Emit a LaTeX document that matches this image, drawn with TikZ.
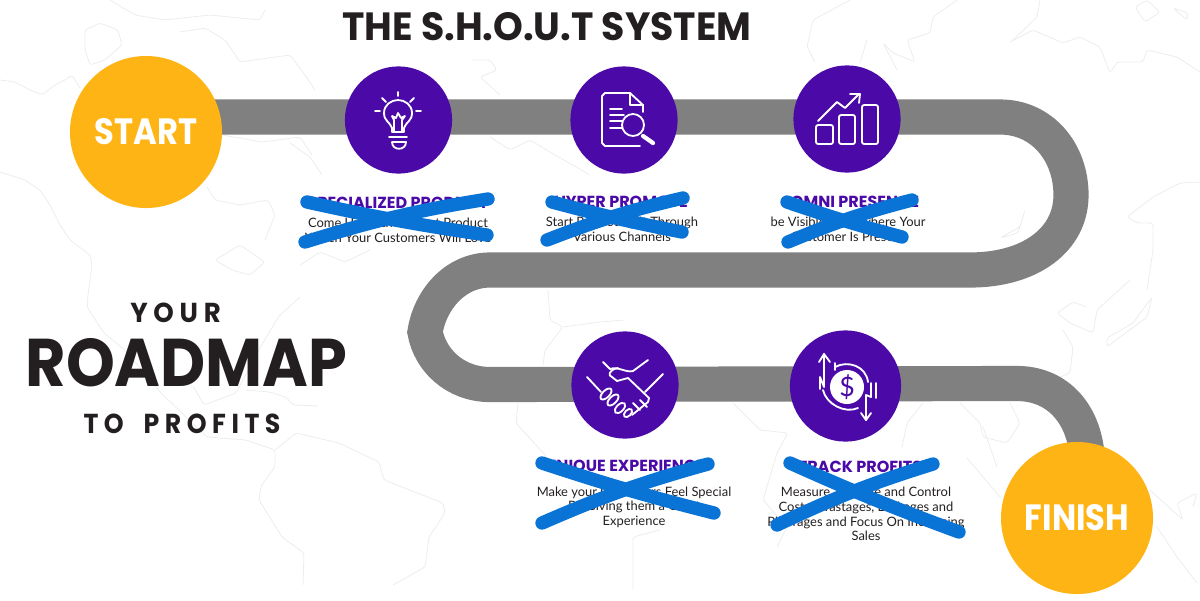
\documentclass[tikz,border=0pt]{standalone}
\usepackage{fontspec}
\setmainfont{Lato}
\newfontfamily\headfont{Poppins}
\newfontfamily\spacedfont[LetterSpace=22]{Poppins}
\usepackage{tikz}
\usetikzlibrary{backgrounds}
\definecolor{sunny}{HTML}{FFB416}
\definecolor{royal}{HTML}{4B0AA8}
\definecolor{roadgray}{HTML}{808080}
\definecolor{inkblue}{HTML}{0A73D6}
\definecolor{inkdark}{HTML}{231F20}
\definecolor{mapline}{HTML}{EDEDED}

\begin{document}
\begin{tikzpicture}[x=0.025cm, y=-0.025cm,
  goal/.style={circle, fill=sunny, minimum size=3.8cm, inner sep=0pt, text=white,
               font=\headfont\bfseries\fontsize{26}{30}\selectfont},
  stop/.style={circle, fill=royal, minimum size=2.68cm, inner sep=0pt},
  heading/.style={font=\headfont\bfseries\fontsize{11.4}{13}\selectfont, text=royal},
  blurb/.style={align=center, text=inkdark, font=\fontsize{9.2}{10.4}\selectfont},
  slogan/.style={text=inkdark, font=\spacedfont\bfseries\fontsize{19.5}{24}\selectfont},
  road/.style={draw=roadgray, line width=25pt, line join=miter},
  cross/.style={draw=inkblue, line width=9.5pt, line cap=round},
  icon/.style={draw=white, line width=1.3pt, line cap=round, line join=round},
  map/.style={draw=mapline, line width=0.6pt, line join=round, rounded corners=2pt}
]
\useasboundingbox (0,0) rectangle (1200,600);

%% Start, finish and the five stops
\node[goal] at (146,132) (start) {\raisebox{-2pt}{\scalebox{0.88}[1]{START}}};
\node[goal] at (1077,518) (finish) {\raisebox{-1.5pt}{\scalebox{0.88}[1]{FINISH}}};
\node[stop] at (398.5,120) (product) {};
\node[stop] at (624,120) (promote) {};
\node[stop] at (847,119) (omni) {};
\node[stop] at (625,385) (unique) {};
\node[stop, minimum size=2.78cm] at (845.5,386) (track) {};

%% Road bends
\coordinate (bendA) at (1000,117);
\coordinate (bendB) at (1071,195);
\coordinate (bendC) at (970,270);
\coordinate (bendD) at (490,270);
\coordinate (bendE) at (425,332);
\coordinate (bendF) at (490,384.5);
\coordinate (bendG) at (1017,383.5);
\coordinate (bendH) at (1086,447);

\begin{pgfonlayer}{background}
%% Faint world map
\draw[map] (0,80) -- (15,82) -- (30,90) -- (42,95) -- (55,85) -- (65,80) -- (72,75) -- (80,88);
\draw[map] (0,172) -- (25,180) -- (40,190) -- (50,205) -- (60,225) -- (70,240) -- (90,255) -- (92,265) -- (88,295) -- (87,307) -- (104,333) -- (125,350) -- (161,393) -- (207,437) -- (246,440) -- (275,450) -- (275,467) -- (261,486) -- (259,500) -- (282,537) -- (304,553) -- (303,585);
\draw[map] (85,30) -- (100,23) -- (118,30) -- (122,45) -- (105,60) -- (90,65) -- (85,50) -- cycle;
\draw[map] (180,32) -- (205,28) -- (225,40) -- (240,62) -- (290,55) -- (305,75) -- (315,90);
\draw[map] (110,0) -- (135,15) -- (165,20) -- (210,15) -- (260,20) -- (265,10);
\draw[map] (207,187) -- (215,200) -- (240,205) -- (268,200) -- (275,215) -- (265,240);
\draw[map] (222,135) -- (262,142) -- (300,137) -- (312,155);
\draw[map] (215,260) -- (240,245) -- (265,262) -- (250,275) -- (232,270) -- cycle;
\draw[map] (300,265) -- (320,252) -- (345,262) -- (370,250);
\draw[map] (300,297) -- (279,316) -- (261,346) -- (236,393) -- (204,405) -- (193,386);
\draw[map] (246,390) -- (270,392) -- (286,397) -- (293,405) -- (318,406);
\draw[map] (275,450) -- (296,433) -- (339,443) -- (379,462) -- (384,480) -- (443,503) -- (445,513) -- (429,537) -- (425,567) -- (393,585);
\draw[map] (290,143) -- (310,157) -- (322,175);
\draw[map] (472,60) -- (490,60) -- (497,70) -- (480,77) -- (500,95);
\draw[map] (490,137) -- (510,150) -- (530,140) -- (555,155) -- (590,175);
\draw[map] (548,290) -- (550,320) -- (563,327) -- (545,350) -- (543,365);
\draw[map] (563,327) -- (600,322) -- (625,320);
\draw[map] (518,403) -- (516,423) -- (547,457) -- (536,466);
\draw[map] (733,403) -- (760,430) -- (788,433) -- (777,453) -- (763,500) -- (787,527) -- (777,547);
\draw[map] (633,590) -- (633,537) -- (660,530);
\draw[map] (1010,42) -- (1033,30) -- (1040,33) -- (1063,43) -- (1080,37) -- (1100,47) -- (1110,73) -- (1117,62) -- (1143,62) -- (1147,50) -- (1177,57) -- (1200,72);
\draw[map] (1040,0) -- (1037,17) -- (1013,40);
\draw[map] (1135,7) -- (1147,0) -- (1160,12) -- (1145,22) -- cycle;
\draw[map] (1173,8) -- (1188,13) -- (1187,20) -- cycle;
\draw[map] (957,0) -- (933,17) -- (930,33) -- (907,40) -- (915,62) -- (893,53) -- (883,43) -- (897,70);
\draw[map] (867,40) -- (860,63);
\draw[map] (850,0) -- (813,20) -- (807,47) -- (815,62);
\draw[map] (1200,182) -- (1180,183) -- (1153,197) -- (1127,217) -- (1137,223) -- (1153,223) -- (1153,250) -- (1147,290);
\draw[map] (1025,210) -- (1020,227) -- (1000,238) -- (1018,233) -- cycle;
\draw[map] (1130,280) -- (1097,310) -- (1093,333) -- (1070,323) -- (1057,313) -- (1073,302) -- (1087,307);
\draw[map] (1063,330) -- (1073,347) -- (1070,373) -- (1060,377);
\draw[map] (1107,347) -- (1107,338) -- (1133,323) -- (1152,297) -- (1147,317) -- (1120,337) -- cycle;
\draw[map] (960,403) -- (980,423) -- (983,437) -- (1007,443) -- (1020,423) -- (1010,403);
\draw[map] (983,427) -- (997,467);
\draw[map] (967,458) -- (1000,497);
\draw[map] (923,403) -- (907,423) -- (902,447);
\draw[map] (1150,490) -- (1183,520) -- (1177,503) -- (1197,493) -- (1193,507);
\draw[map] (1157,527) -- (1177,557) -- (1197,583);

%% The road
\draw[road] (start |- bendA) -- (bendA) .. controls (1042,117) and (1071,152) .. (bendB)
  .. controls (1071,240) and (1030,270) .. (bendC) -- (bendD)
  .. controls (455,270) and (430,300) .. (bendE)
  .. controls (430,360) and (455,384.5) .. (bendF) -- (bendG)
  .. controls (1055,383.5) and (1080,410) .. (bendH) -- (finish.center);
\end{pgfonlayer}

%% Titles
\node[text=inkdark, font=\headfont\bfseries\fontsize{28}{32}\selectfont] at (547,27) (title) {\scalebox{0.962}[1]{THE S.H.O.U.T SYSTEM}};
\node[slogan] at (175.5,312.5) (your) {\scalebox{0.95}[1]{YOUR}};
\node[text=inkdark, font=\headfont\bfseries\fontsize{48}{54}\selectfont] at (186.5,363) (roadmap) {\scalebox{0.92}[1]{ROADMAP}};
\node[slogan] at (182,423.5) (profits) {\scalebox{0.92}[1]{TO\hspace{0.35em} PROFITS}};

%% Labels under the stops
\node[heading] at (398,203) (productA) {SPECIALIZED PRODUCT};
\node[blurb] at (398,230) (productB) {Come Up With A Great Product\\Which Your Customers Will Love};
\node[heading] at (621,202) (promoteA) {HYPER PROMOTE};
\node[blurb] at (622,229) (promoteB) {Start Promoting It Through\\Various Channels};
\node[heading] at (855,202) (omniA) {OMNI PRESENCE};
\node[blurb] at (848,229) (omniB) {be Visible Everywhere Your\\Customer Is Present};
\node[heading] at (625,467) (uniqueA) {UNIQUE EXPERIENCE};
\node[blurb] at (634,507) (uniqueB) {Make your Customers Feel Special\\By Giving them a Great\\Experience};
\node[heading] at (860,467) (trackA) {TRACK PROFITS};
\node[blurb] at (866,514) (trackB) {Measure, Analyze and Control\\Costs, Wastages, Leakages and\\Pilferages and Focus On Increasing\\Sales};

%% Blue strike-outs
\draw[cross] (307,202) to[bend right=2] (487,235);
\draw[cross] (305,242) to[bend left=4] (488,199);
\draw[cross] (552,202) to[bend right=2] (682,232);
\draw[cross] (547,240) to[bend left=4] (683,198);
\draw[cross] (787,202) to[bend right=2] (902,237);
\draw[cross] (788,242) to[bend left=4] (912,200);
\draw[cross] (542,463) to[bend right=2] (714,513);
\draw[cross] (542,523) to[bend left=4] (708,464);
\draw[cross] (790,463) to[bend right=2] (959,532);
\draw[cross] (777,525) to[bend left=4] (933,464);

%% Bulb
\draw[icon] (392,132) -- (392,128) .. controls (390,122) and (384,121) .. (384,113)
  .. controls (384,105) and (391,100) .. (398,100) .. controls (405,100) and (412,105) .. (412,113)
  .. controls (412,121) and (406,122) .. (404,128) -- (404,132) -- cycle;
\draw[icon] (394,132) -- (394,120) -- (392,116) -- (396,118) -- (398,113) -- (401,118) -- (405,116) -- (402,120) -- (402,132);
\draw[icon] (389,137) -- (407,137);
\draw[icon] (392,142) -- (406,142) .. controls (406,151) and (392,151) .. (392,142);
\draw[icon] (398,92) -- (398,96);
\draw[icon] (382,98) -- (386,102);
\draw[icon] (414,98) -- (410,102);
\draw[icon] (375,111) -- (380,111);
\draw[icon] (416,111) -- (421,111);

%% Document and lens
\draw[icon] (630,93) -- (605,93) -- (602,96) -- (602,143) -- (605,146) -- (640,146);
\draw[icon] (630,93) -- (643,105) -- (643,112);
\draw[icon] (630,93) -- (630,105) -- (643,105);
\draw[icon] (610,109) -- (622,109);
\draw[icon] (610,115) -- (624,115);
\draw[icon] (610,121) -- (622,121);
\draw[icon] (610,128) -- (623,128);
\draw[icon, fill=royal] (633,125) circle (11);
\draw[icon, line width=3pt] (643,136) -- (653,143);

%% Chart
\draw[icon, rounded corners=1.5pt] (816,125) rectangle (833,144);
\draw[icon, rounded corners=1.5pt] (839,115) rectangle (855,144);
\draw[icon, rounded corners=1.5pt] (862,105) rectangle (878,144);
\draw[icon] (818,121) -- (837,102) -- (845,108) -- (859,94);
\draw[icon] (850,94) -- (860,94) -- (859,103);

%% Handshake
\draw[icon] (587,377) -- (601,392);
\draw[icon] (663,374) -- (645,392);
\draw[icon] (603,362) -- (610,369) .. controls (618,366) and (626,373) .. (633,371) -- (648,360);
\draw[icon] (618,368) .. controls (608,370) and (608,376) .. (612,377) -- (617,381) -- (628,378) -- (649,398) -- (648,402) -- (632,415);
\draw[icon, rotate around={-45:(606,394)}] (606,394) ellipse (3.5 and 7);
\draw[icon, rotate around={-45:(613,400)}] (613,400) ellipse (3.5 and 7);
\draw[icon, rotate around={-45:(620,408)}] (620,408) ellipse (3.5 and 6.5);
\draw[icon, rotate around={-45:(628,413)}] (628,413) ellipse (3 and 5);
\draw[icon] (633,403) -- (640,410);
\draw[icon] (640,400) -- (647,407);

%% Dollar and arrows
\node[circle, fill=white, minimum size=0.85cm, inner sep=0pt, text=royal,
      font=\fontsize{19}{19}\selectfont] at (847,387) (dollar) {\$};
\draw[icon] (824,354) -- (824,387) -- (820,377) -- (820,389);
\draw[icon] (819,362) -- (824,354) -- (830,362);
\draw[icon] (835,367) .. controls (848,360) and (866,366) .. (868,382);
\draw[icon] (835,363) -- (835,370);
\draw[icon] (823,390) .. controls (826,404) and (845,414) .. (858,408);
\draw[icon] (866,420) -- (866,395) -- (871,397) -- (871,383);
\draw[icon] (861,413) -- (866,420) -- (871,413);
\draw[icon] (876,383) -- (876,398);
\end{tikzpicture}
\end{document}
